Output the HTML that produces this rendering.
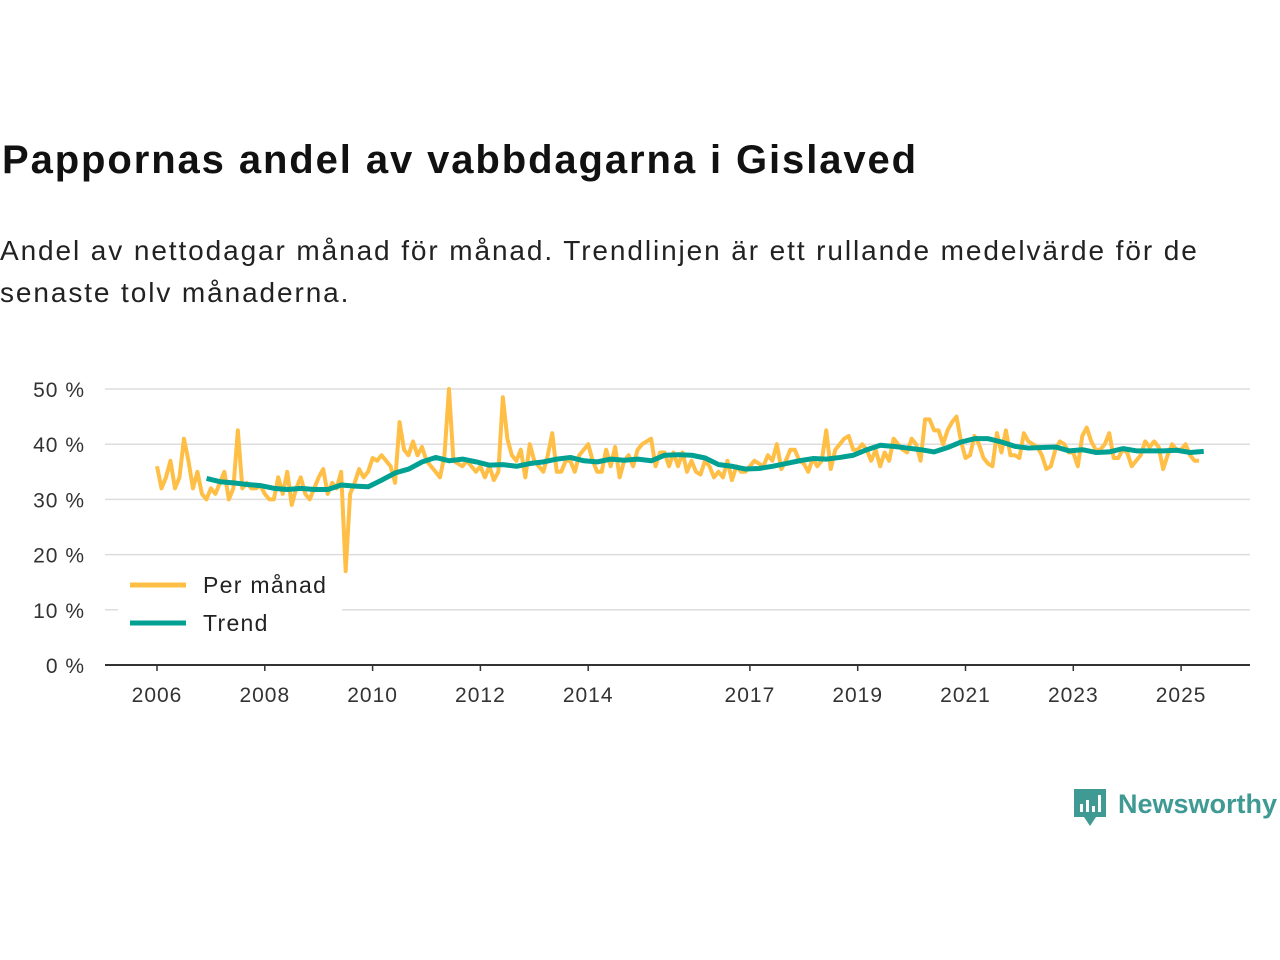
<!DOCTYPE html>
<html><head><meta charset="utf-8"><style>
body{margin:0;width:1280px;height:960px;background:#fff;font-family:"Liberation Sans",sans-serif;position:relative;overflow:hidden}
#title{position:absolute;left:2px;top:138px;font-size:40px;letter-spacing:1.9px;font-weight:bold;color:#111;margin:0;white-space:nowrap}
#sub{position:absolute;left:0;top:230px;font-size:28px;letter-spacing:1.9px;line-height:42px;color:#222;width:1240px}
svg{position:absolute;left:0;top:0}
</style></head><body>
<h1 id="title">Pappornas andel av vabbdagarna i Gislaved</h1>
<div id="sub">Andel av nettodagar månad för månad. Trendlinjen är ett rullande medelvärde för de senaste tolv månaderna.</div>
<svg id="chart" width="1280" height="960"></svg>
<script>
const monthly=[
36,32,34,37,32,34,41,37,32,35,31,30,
32,31,33,35,30,32,42.5,32,33,32,32,32.5,
31,30,30,34,31,35,29,32,34,31,30,32,
34,35.5,31,33,32,35,17,31,33,35.5,34,35,
37.5,37,38,37,36,33,44,39,38,40.5,38,39.5,
37,36,35,34,38,50,37,36.5,36,37,36,35,
36,34,36,33.5,35,48.5,41,38,37,39,34,40,
37,36,35,38,42,35,35,37,37,35,38,39,
40,37,35,35,39,36,39.5,34,37,38,36,39,
40,40.5,41,36,38.5,38.5,36,38.5,36,38.5,35,37,
35,34.5,37,36,34,35,34,37,33.5,36,35,35,
36,37,36.5,36,38,37,40,35.5,37,39,39,37,
36.5,35,37.5,36,37,42.5,35.5,39,40,41,41.5,39,
39,40,39,37,39,36,38.5,37,41,40,39,38.5,
41,40,37,44.5,44.5,42.5,42.5,40,42.5,44,45,40.5,
37.5,38,41.5,40,37.5,36.5,36,42,38.5,42.5,38,38,
37.5,42,40.5,40,39.5,38,35.5,36,39,40.5,40,38.5,
38.5,36,41.5,43,40.5,39,39,40,42,37.5,37.5,39,
38.5,36,37,38,40.5,39.5,40.5,39.5,35.5,38,40,39,
39,40,38,37,37];
const monthlyStart=2006.0;
const trend=[33.8,
33.2,33,32.7,32.5, 32,31.8,32,31.8, 31.8,32.6,32.4,32.3, 33.5,34.8,35.5,36.8,
37.6,37.0,37.3,36.8, 36.2,36.3,36.0,36.5, 36.8,37.3,37.6,37.0, 36.8,37.3,37.1,37.3,
37.0,38.0,38.1,38.0, 37.5,36.3,36.0,35.5, 35.6,36.0,36.5,37.0, 37.4,37.3,37.6,38.0,
39.0,39.8,39.6,39.3, 39.0,38.6,39.4,40.4, 41.0,41.0,40.4,39.6, 39.3,39.4,39.5,38.8,
39.0,38.5,38.6,39.2, 38.8,38.8,38.8,38.9, 38.5,38.7];
const trendStart=2006.92;
const yTicks=[0,10,20,30,40,50];
const xTicks=[2006,2008,2010,2012,2014,2017,2019,2021,2023,2025];
const NS="http://www.w3.org/2000/svg";
const svg=document.getElementById('chart');
const X=y=>157+(y-2006)*53.9;
const Y=v=>665-v*5.52;
function mk(t,a,p){const e=document.createElementNS(NS,t);for(const k in a)e.setAttribute(k,a[k]);(p||svg).appendChild(e);return e;}
yTicks.forEach(v=>{
  if(v>0){const g=mk('line',{x1:105,x2:1250,y1:Y(v),y2:Y(v),stroke:'#ddd','stroke-width':1.5});
  
  }
  const t=mk('text',{x:85,y:Y(v)+8,'text-anchor':'end','font-size':21,'letter-spacing':1,fill:'#333'});t.textContent=v+' %';
  
  
});
const ax=mk('line',{x1:105,x2:1250,y1:665,y2:665,stroke:'#333','stroke-width':2});


xTicks.forEach(yr=>{
  mk('line',{x1:X(yr),x2:X(yr),y1:665,y2:671,stroke:'#333','stroke-width':1.5});
  const t=mk('text',{x:X(yr),y:702,'text-anchor':'middle','font-size':21,'letter-spacing':1,fill:'#333'});t.textContent=yr;
  
  
});
const pm=mk('polyline',{points:monthly.map((v,i)=>X(monthlyStart+i/12)+','+Y(v)).join(' '),fill:'none',stroke:'#ffbe45','stroke-width':4,'stroke-linejoin':'round'});


const tl=mk('polyline',{points:trend.map((v,i)=>X(trendStart+i*0.25)+','+Y(v)).join(' '),fill:'none',stroke:'#00a093','stroke-width':5,'stroke-linejoin':'round'});


const lg=mk('g',{});


mk('rect',{x:118,y:563,width:224,height:82,fill:'#fff'},lg);
mk('line',{x1:130,x2:186,y1:585,y2:585,stroke:'#ffbe45','stroke-width':5},lg);
mk('line',{x1:130,x2:186,y1:623,y2:623,stroke:'#00a093','stroke-width':5},lg);
const l1=mk('text',{x:203,y:593,'font-size':23,'letter-spacing':1.3,fill:'#222'},lg);l1.textContent='Per månad';
const l2=mk('text',{x:203,y:631,'font-size':23,'letter-spacing':1.3,fill:'#222'},lg);l2.textContent='Trend';
const logo=mk('g',{});


mk('path',{d:'M1074 789 h32 v28 h-10 l-6 9 l-6 -9 h-10 z',fill:'#3f9a93'},logo);
mk('rect',{x:1080,y:804,width:3,height:8,fill:'#fff'},logo);
mk('rect',{x:1086,y:800,width:3,height:12,fill:'#fff'},logo);
mk('rect',{x:1092,y:806,width:3,height:6,fill:'#fff'},logo);
mk('rect',{x:1098,y:795,width:3,height:17,fill:'#fff'},logo);
const lt=mk('text',{x:1118,y:813,'font-size':27,fill:'#3f9a93','font-weight':'bold'},logo);lt.textContent='Newsworthy';
</script>
</body></html>
